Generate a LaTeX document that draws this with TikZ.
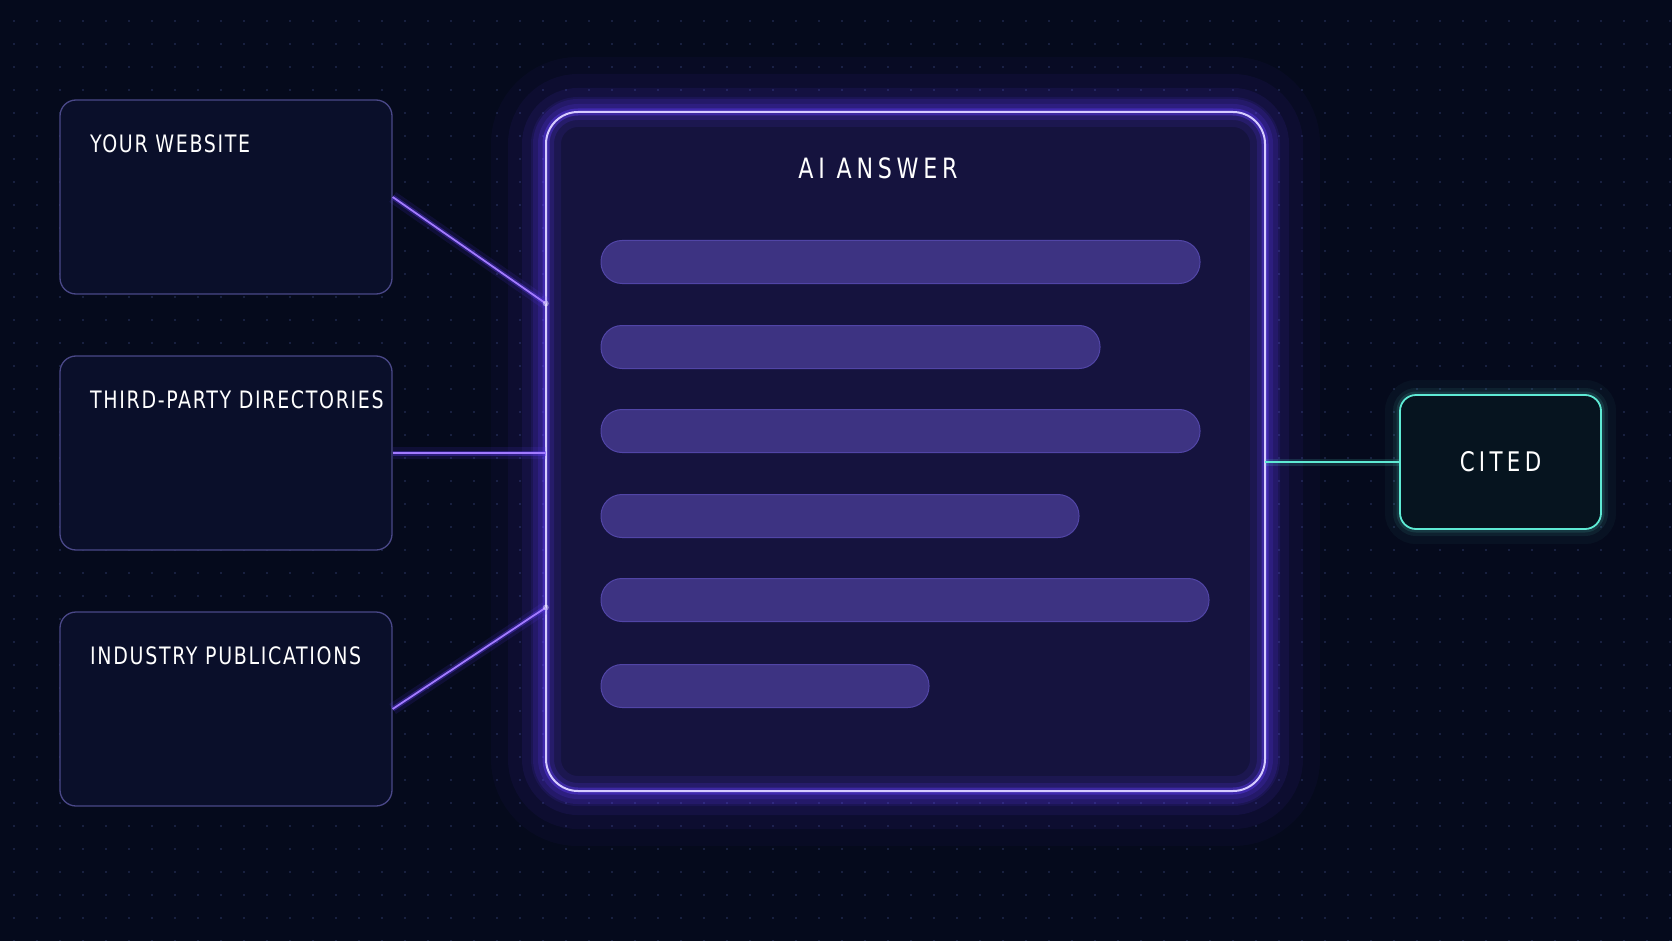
\documentclass[tikz,border=0pt]{standalone}
\usepackage{fontspec}
\setmainfont{DejaVu Sans Condensed}[LetterSpace=7, FakeStretch=0.88]
\usetikzlibrary{positioning}

\definecolor{bgnavy}{HTML}{050A1C}
\definecolor{dotcol}{HTML}{20294D}
\definecolor{srcfill}{HTML}{0A0F2A}
\definecolor{srcedge}{HTML}{4A4888}
\definecolor{ansfill}{HTML}{15133E}
\definecolor{ansedge}{HTML}{D6CCFF}
\definecolor{glowviolet}{HTML}{5E3BF5}
\definecolor{barfill}{HTML}{3D3382}
\definecolor{baredge}{HTML}{5145A6}
\definecolor{wire}{HTML}{A27AFF}
\definecolor{teal}{HTML}{5EEAD4}
\definecolor{citedfill}{HTML}{06141F}

\begin{document}
\begin{tikzpicture}[x=1pt,y=-1pt,
  source/.style={draw=srcedge, line width=1.3pt, fill=srcfill, rounded corners=16pt,
    minimum width=332pt, minimum height=194pt},
  srclabel/.style={anchor=west, inner sep=0pt, text=white, font=\fontsize{24}{28}\selectfont},
  title/.style={text=white, inner sep=0pt, font=\fontsize{28}{34}\selectfont\addfontfeatures{LetterSpace=17}},
  glow/.style 2 args={preaction={draw, glowviolet, line width=#1, opacity=#2}},
  innerglow/.style 2 args={postaction={draw, glowviolet, line width=#1, opacity=#2}},
  bar/.style={draw=baredge, line width=1pt, fill=barfill, rounded corners=21pt,
    minimum height=43pt, inner sep=0pt},
  wireline/.style={wire, line width=1.8pt,
    preaction={draw, glowviolet, line width=12pt, opacity=0.12},
    preaction={draw, glowviolet, line width=5pt, opacity=0.35}},
  tealline/.style={teal, line width=1.6pt,
    preaction={draw, teal, line width=7pt, opacity=0.14}}]

  % background and dot grid
  \fill[bgnavy] (0,0) rectangle (1672,941);
  \useasboundingbox (0,0) rectangle (1672,941);
  \foreach \x in {14,37,...,1672}
    \foreach \y in {21,44,...,941}
      \fill[dotcol] (\x,\y) circle (1.1pt);

  % sources
  \node[source] (web) at (226,197) {};
  \node[source] (dirs) at (226,453) {};
  \node[source] (pubs) at (226,709) {};
  \node[srclabel] (webtxt) at (90,144) {YOUR WEBSITE};
  \node[srclabel] (dirstxt) at (90,400) {THIRD-PARTY DIRECTORIES};
  \node[srclabel] (pubstxt) at (90,656) {INDUSTRY PUBLICATIONS};

  % answer card, outer glow behind the fill, inner glow on top
  \node[fill=ansfill, rounded corners=32pt, minimum width=719pt, minimum height=679pt,
    glow={110pt}{0.04}, glow={76pt}{0.06}, glow={48pt}{0.09}, glow={26pt}{0.14},
    innerglow={30pt}{0.1}, innerglow={16pt}{0.16}, innerglow={7pt}{0.4},
    postaction={draw=ansedge, line width=2pt}] (answer) at (905.5,451.5) {};
  \node[title] (anstitle) at (878,168) {AI ANSWER};

  % answer lines
  \foreach \n/\y/\r in {1/262/1200, 2/347/1100, 3/431/1200, 4/516/1079, 5/600/1209, 6/686/929}
  {
    \pgfmathsetmacro\bw{\r-601}
    \pgfmathsetmacro\bx{(\r+601)/2}
    \node[bar, minimum width=\bw pt] (bar\n) at (\bx,\y) {};
  }

  % cited
  \node[draw=teal, line width=1.8pt, fill=citedfill, rounded corners=16pt,
    minimum width=201pt, minimum height=134pt,
    preaction={draw, teal, line width=30pt, opacity=0.04},
    preaction={draw, teal, line width=14pt, opacity=0.07},
    preaction={draw, teal, line width=7pt, opacity=0.12}] (cited) at (1500.5,462) {};
  \node[title, font=\fontsize{27}{32}\selectfont\addfontfeatures{LetterSpace=16}] (citedtxt) at (cited) {CITED};

  % wires
  \coordinate (in1) at ([yshift=148pt]answer.west);
  \coordinate (in3) at ([yshift=-156pt]answer.west);
  \draw[wireline] (web.east) -- (in1);
  \draw[wireline] (dirs.east) -- (dirs.east -| answer.west);
  \draw[wireline] (pubs.east) -- (in3);
  \draw[tealline] (answer.east |- cited.west) -- (cited.west);
  \foreach \p in {in1, in3}
    \fill[white, opacity=0.4] (\p) circle (3pt);
\end{tikzpicture}
\end{document}
